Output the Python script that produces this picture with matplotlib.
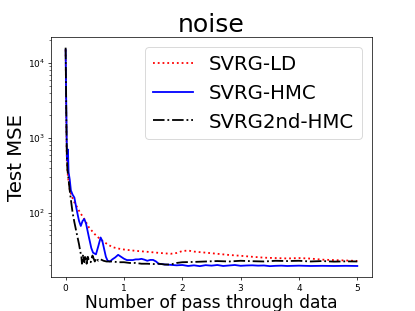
import numpy as np
import matplotlib
matplotlib.use('Agg')
import matplotlib.pyplot as plt

# SVRG-LD
x_ld = [0, 0.01, 0.02, 0.04, 0.07, 0.1, 0.15, 0.2, 0.25, 0.3, 0.4, 0.5, 0.6, 0.7, 0.8, 0.9,
        1.0, 1.2, 1.4, 1.6, 1.8, 1.9, 2.0, 2.1, 2.2, 2.4, 2.6, 2.8, 3.0, 3.2, 3.4, 3.6, 3.8,
        4.0, 4.2, 4.4, 4.6, 4.8, 5.0]
y_ld = [15000, 2000, 500, 300, 205, 170, 138, 118, 100, 88, 64, 52, 44, 39, 35, 33.5,
        32.5, 31.2, 30.3, 29.3, 28.5, 29.2, 31, 31.5, 30.5, 29.5, 28.5, 27.5, 26.8, 26, 25.3, 25, 24.7,
        25, 24.6, 23.8, 23.5, 23.2, 22.9]

# SVRG-HMC
x_hmc = [0, 0.01, 0.02, 0.03, 0.04, 0.05, 0.07, 0.09, 0.12, 0.15, 0.18, 0.21, 0.23, 0.26, 0.29,
         0.32, 0.35, 0.4, 0.44, 0.47, 0.52, 0.56, 0.6, 0.63, 0.66, 0.69, 0.72, 0.76, 0.8, 0.85,
         0.9, 0.95, 1.0, 1.05, 1.1, 1.15, 1.2, 1.25, 1.3, 1.35, 1.4, 1.45, 1.5, 1.55, 1.6, 1.65,
         1.7, 1.8, 1.9, 2.0, 2.1, 2.2, 2.3, 2.4, 2.5, 2.6, 2.7, 2.8, 2.9, 3.0, 3.1, 3.2, 3.3,
         3.4, 3.5, 3.6, 3.7, 3.8, 3.9, 4.0, 4.2, 4.4, 4.6, 4.8, 5.0]
y_hmc = [15000, 3000, 750, 500, 700, 350, 280, 200, 175, 160, 120, 92, 78, 67, 78,
         83, 72, 47, 34, 29.5, 28, 36, 47, 42, 33, 26, 23, 22.5, 24, 25.5,
         27.6, 26, 24.5, 23.5, 23.5, 23.5, 24, 24, 24.4, 23.8, 23, 23.6, 23.6, 22.5, 20.8, 20.8,
         20.5, 20.3, 20.0, 20.2, 19.6, 20.0, 19.5, 20.1, 19.8, 20.2, 19.6, 19.9, 20.2, 19.7, 19.9, 20.0, 19.8,
         19.9, 19.5, 19.7, 19.8, 19.6, 19.7, 19.8, 19.6, 19.7, 19.6, 19.7, 19.6]

# SVRG2nd-HMC
x_2nd = [0, 0.01, 0.02, 0.03, 0.05, 0.07, 0.09, 0.12, 0.15, 0.18, 0.21, 0.23, 0.25, 0.27, 0.28,
         0.30, 0.32, 0.34, 0.36, 0.38, 0.40, 0.43, 0.46, 0.5, 0.53, 0.56, 0.6, 0.65, 0.7, 0.8,
         0.9, 1.0, 1.1, 1.2, 1.3, 1.4, 1.5, 1.6, 1.7, 1.8, 1.9, 2.0, 2.2, 2.4, 2.6, 2.8, 3.0,
         3.2, 3.4, 3.6, 3.8, 4.0, 4.2, 4.4, 4.6, 4.8, 5.0]
y_2nd = [16000, 2500, 600, 380, 280, 200, 150, 100, 75, 58, 45, 38, 31, 26, 21,
         28, 22, 27, 21, 26, 23, 22, 27, 22.5, 25, 23, 24, 23, 22.5, 22.5,
         22, 22, 21.5, 21.5, 21, 21, 20.8, 21, 20.5, 20.5, 21.5, 22, 22.2, 22.5, 22.8, 22.5, 23,
         22.7, 22.5, 23, 22.8, 23, 22.5, 22.8, 22.4, 22.6, 22.5]

fig = plt.figure(figsize=(6.4, 4.8), dpi=64.85)
ax = fig.add_axes([0.123, 0.109, 0.773, 0.772])

ax.plot(x_ld, y_ld, 'r:', lw=2, label='SVRG-LD')
ax.plot(x_hmc, y_hmc, 'b-', lw=2, label='SVRG-HMC')
ax.plot(x_2nd, y_2nd, 'k-.', lw=2, label='SVRG2nd-HMC')
ax.set_yscale('log')

ax.set_title('noise', fontsize=28)
ax.set_xlabel('Number of pass through data', fontsize=19, labelpad=1)
ax.set_ylabel('Test MSE', fontsize=22, labelpad=2)
ax.legend(loc='upper right', fontsize=22)

fig.savefig('out.png', dpi=64.85)
